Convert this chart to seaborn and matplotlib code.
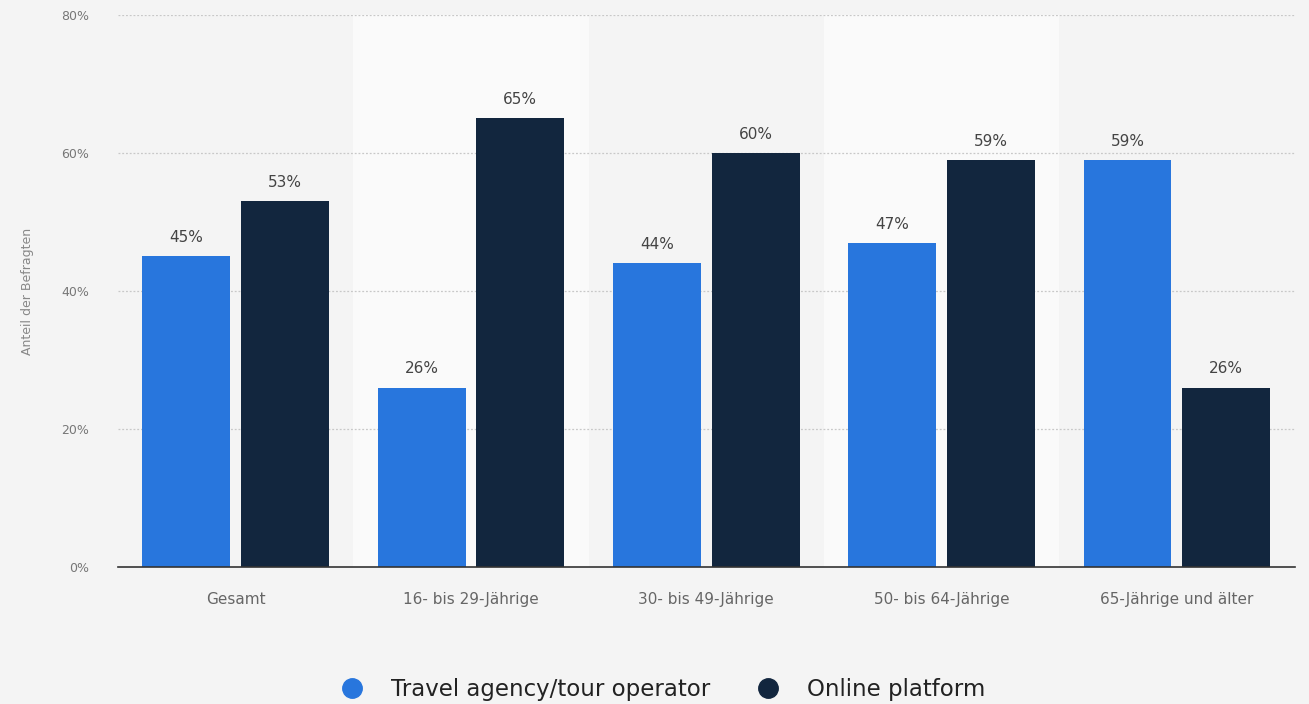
import seaborn as sns
import matplotlib.pyplot as plt
from matplotlib.lines import Line2D
import pandas as pd

categories = ["Gesamt", "16- bis 29-Jährige", "30- bis 49-Jährige", "50- bis 64-Jährige", "65-Jährige und älter"]
series = ["Travel agency/tour operator", "Online platform"]
travel_agency = [45, 26, 44, 47, 59]
online_platform = [53, 65, 60, 59, 26]
colors = ["#2876dd", "#12263e"]

df = pd.DataFrame({
    "Gruppe": categories * 2,
    "Kanal": [series[0]] * len(categories) + [series[1]] * len(categories),
    "Anteil": travel_agency + online_platform,
})

sns.set_style("white")
plt.rcParams["font.family"] = ["DejaVu Sans"]

fig = plt.figure(figsize=(13.09, 7.04), dpi=100)
fig.patch.set_facecolor("#f4f4f4")
ax = fig.add_axes([0.0901, 0.1946, 0.8989, 0.7841])
ax.set_facecolor("#f4f4f4")

# alternating light bands behind the odd groups
for i in range(len(categories)):
    if i % 2 == 1:
        ax.axvspan(i - 0.5, i + 0.5, color="#fafafa", zorder=0, lw=0)

sns.barplot(ax=ax, data=df, x="Gruppe", y="Anteil", hue="Kanal", palette=colors,
            saturation=1, width=0.84, gap=0.11, legend=False, zorder=3, linewidth=0)

for cont in ax.containers:
    ax.bar_label(cont, labels=[f"{v:.0f}%" for v in cont.datavalues], padding=8,
                 fontsize=11, color="#444444")

ax.set_xlim(-0.5, len(categories) - 0.5)
ax.set_ylim(0, 80)
ax.set_yticks([0, 20, 40, 60, 80])
ax.set_yticklabels([f"{t}%" for t in [0, 20, 40, 60, 80]], fontsize=9, color="#777777")
ax.tick_params(axis="y", length=0, pad=21)
ax.tick_params(axis="x", length=0, pad=18, labelsize=11, labelcolor="#666666")
for t in [20, 40, 60, 80]:
    ax.axhline(t, color="#c8c8c8", lw=0.9, ls=(0, (1.5, 1.5)), zorder=1)
ax.set_xlabel("")
ax.set_ylabel("Anteil der Befragten", fontsize=9, color="#888888", labelpad=19)
for s in ["top", "right", "left"]:
    ax.spines[s].set_visible(False)
ax.spines["bottom"].set_color("#333333")
ax.spines["bottom"].set_linewidth(1.2)
ax.spines["bottom"].set_zorder(4)

handles = [Line2D([], [], marker="o", ls="", markersize=14, markerfacecolor=c, markeredgecolor=c)
           for c in colors]
fig.legend(handles, series, loc="center", bbox_to_anchor=(0.502, 0.02), ncol=2, frameon=False,
           fontsize=16.5, handletextpad=0.7, columnspacing=1.5, labelcolor="#222222")

fig.savefig("out.png", dpi=100, facecolor=fig.get_facecolor())
